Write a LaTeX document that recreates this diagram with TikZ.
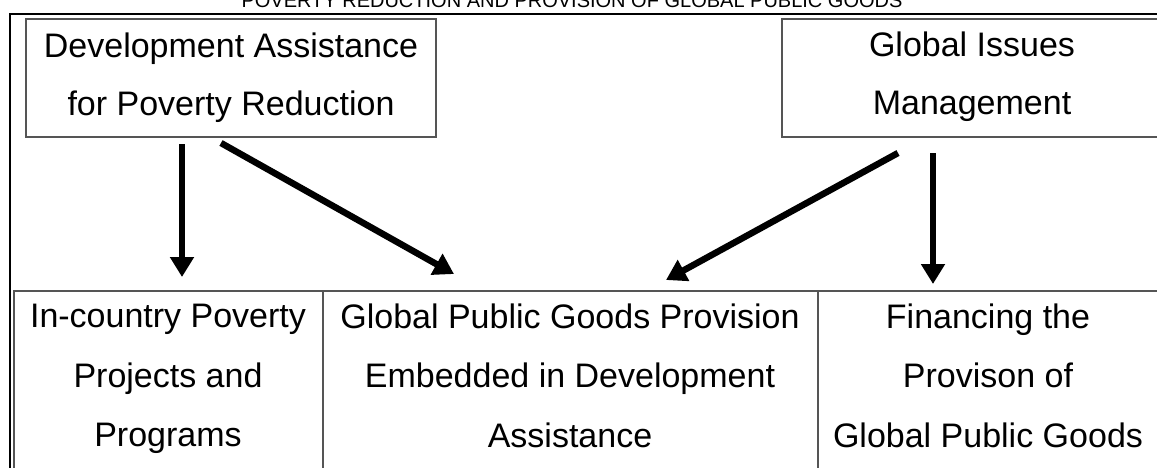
\documentclass[tikz,border=0pt]{standalone}
\usepackage{fontspec}
\setmainfont{Liberation Sans}
\usetikzlibrary{arrows.meta}
\definecolor{boxgray}{HTML}{555555}
\begin{document}
\begin{tikzpicture}[x=1pt,y=-1pt,
  box/.style={draw=boxgray,line width=1.4pt,inner sep=0pt},
  txt/.style={font=\fontsize{34}{58}\selectfont,align=center,anchor=base,inner sep=0pt},
  txtb/.style={font=\fontsize{34}{59.5}\selectfont,align=center,anchor=base,inner sep=0pt},
  arr/.style={line width=6.5pt,-{Triangle[width=23pt,length=20pt]}}]
\useasboundingbox (0,0) rectangle (1157,467);
% outer frame
\draw[line width=2pt] (9.5,500) -- (9.5,14) -- (1180,14);
% title
\node[font=\fontsize{20}{24}\selectfont,anchor=base,inner sep=0pt] (title) at (572,7) {POVERTY REDUCTION AND PROVISION OF GLOBAL PUBLIC GOODS};
% top boxes
\node[box,minimum width=410pt,minimum height=118pt] (dev) at (231,78) {};
\node[box,minimum width=383pt,minimum height=118pt] (gim) at (973.5,78) {};
% (base anchor of a multi-line node = baseline of its last line)
\node[txt] (devT) at (231,115) {Development Assistance\\for Poverty Reduction};
\node[txt] (gimT) at (972,114.5) {Global Issues\\Management};
% bottom boxes
\node[box,minimum width=309pt,minimum height=189pt] (inc) at (168.5,385.5) {};
\node[box,minimum width=495pt,minimum height=189pt] (gpg) at (570.5,385.5) {};
\node[box,minimum width=344pt,minimum height=189pt] (fin) at (990,385.5) {};
\node[txtb] (incT) at (168,446.5) {In-country Poverty\\Projects and\\Programs};
\node[txtb] (gpgT) at (570,447) {Global Public Goods Provision\\Embedded in Development\\Assistance};
\node[txtb] (finT) at (988,447) {Financing the\\Provison of\\Global Public Goods};
% arrow ends
\coordinate (a1s) at (182,144);
\coordinate (a1e) at (182,277);
\coordinate (a2s) at (221,143);
\coordinate (a2e) at (454,274);
\coordinate (a3s) at (898,153);
\coordinate (a3e) at (666,280);
\coordinate (a4s) at (933,153);
\coordinate (a4e) at (933,284);
\draw[arr] (a1s) -- (a1e);
\draw[arr] (a2s) -- (a2e);
\draw[arr] (a3s) -- (a3e);
\draw[arr] (a4s) -- (a4e);
\end{tikzpicture}
\end{document}
